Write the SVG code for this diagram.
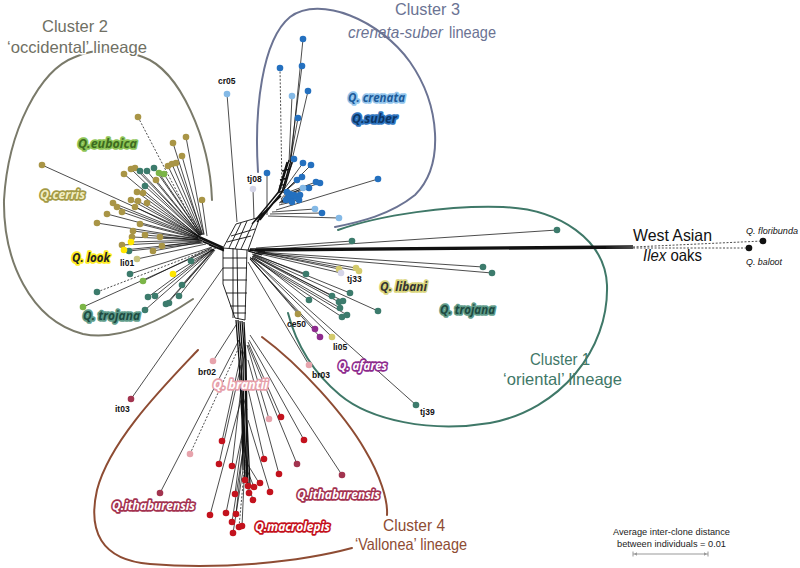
<svg xmlns="http://www.w3.org/2000/svg" width="800" height="568" viewBox="0 0 800 568">
<style>
.e{stroke:#111;stroke-width:0.75;fill:none}
.n{stroke:#111;stroke-width:0.9;fill:none}
.t{stroke:#111;stroke-width:1.3;fill:none}
.d{stroke:#111;stroke-width:0.75;fill:none;stroke-dasharray:2 1.6}
.bd{fill:none;stroke-width:2;stroke-linecap:round}
circle{r:3.3px}
.ol{fill:#a99546}.te{fill:#3c7b6c}.gr{fill:#7bb547}.ye{fill:#ffe600}.pa{fill:#c8c47e}
.bl{fill:#2470bf}.lb{fill:#84b9e6}.la{fill:#d5d5e8}.kh{fill:#d3ca6c}.pu{fill:#8e2b8e}
.pk{fill:#e7a3ac}.rd{fill:#c3121d}.mr{fill:#a2344f}.bk{fill:#111}
.cl{font-family:"Liberation Sans","Open Sans",sans-serif;font-size:16.5px}
.sp{font-family:"Open Sans","Liberation Sans",sans-serif;font-size:13px;font-weight:bold;font-style:italic;paint-order:stroke;stroke-width:3.5px;stroke-linejoin:round}
.sm{font-family:"Liberation Sans",sans-serif;font-size:8.5px;font-weight:bold;fill:#111}
.sc{font-family:"Liberation Sans",sans-serif;font-size:9.5px;fill:#222}
</style>

<g id="boundaries">
<path class="bd" stroke="#7a7a6a" d="M212,200 C210,140 180,70 143,57 C120,48 95,48 75,57 C40,70 8,130 4,200 C3,260 30,320 83,334 C120,342 165,318 193,299"/>
<path class="bd" stroke="#6b7393" d="M258,172 C254,110 262,40 290,17 C320,-5 380,20 410,62 C440,105 445,165 415,195 C390,215 360,222 335,227"/>
<path class="bd" stroke="#3f7868" d="M338,230 C380,215 450,205 503,207 C560,209 605,240 607,285 C609,350 560,410 490,423 C430,433 370,420 340,395 C310,370 295,340 288,313"/>
<path class="bd" stroke="#8e4c33" d="M198,350 C165,385 110,440 97,490 C88,530 100,560 150,564 C220,570 300,562 352,548"/>
<path class="bd" stroke="#8e4c33" d="M262,337 C300,365 345,415 365,450 C380,475 388,500 387,515"/>
</g>

<g id="connectors">
<path class="d" d="M138,117 L198,232 M97,292 L212,248 M280,68 L282,190 M190,454 L240,345 M239,527 L245,462"/>
<path class="e" d="M186,137 L204,234 M173,143 L202,234 M182,156 L204,235 M42,165 L199,236 M168,166 L201,235 M172,164 L202,235 M176,163 L203,235 M131,169 L199,235 M135,168 L200,235 M124,174 L198,236 M156,180 L201,236 M137,192 L199,237 M143,193 L200,237 M202,200 L207,236 M131,200 L199,237 M138,201 L199,237 M147,203 L200,237 M113,203 L198,237 M117,207 L198,238 M122,212 L198,238 M135,207 L199,238 M107,214 L198,238 M97,223 L198,239 M140,224 L199,239 M133,231 L199,239 M145,235 L200,240 M132,237 L199,240 M160,237 L201,240 M122,245 L200,241 M162,246 L202,241 M153,251 L202,242 M140,171 L200,235 M147,171 L200,235 M154,168 L201,235 M145,186 L200,236 M129,251 L203,243 M159,173 L201,235 M164,174 L202,235 M131,242 L200,240 M124,250 L201,242 M137,259 L206,244"/>
<path class="e" d="M130,274 L212,247 M191,261 L216,248 M182,285 L214,249 M148,297 L213,249 M155,296 L213,249 M179,296 L215,250 M145,310 L213,250 M166,304 L214,250 M168,303 L214,250 M143,281 L211,248 M83,307 L212,249 M173,274 L214,249"/>
<path class="t" d="M194,234 L223,247 M197,236 L223,248 M199,238 L224,249 M200,240 L223,250 M203,242 L224,250 M209,245 L224,251"/>
<path class="n" d="M223,248 L236,224 L260,217 L248,250 Z M229,248 L241,223 M235,249 L247,221 M231,236 L255,229 M227,242 L251,236 M241,249 L253,223 M223,248 L223,284 L235,318 L245,320 L247,250 M233,248 L233,318 M237,249 L238,319 M223,258 L247,258 M223,268 L247,268 M223,280 L247,280 M226,293 L247,293 M230,306 L246,306 M233,313 L246,313"/>
<path class="t" d="M254,222 L280,190 L289,160 M257,222 L282,192 L291,160 M260,220 L284,190 L292,162 M252,224 L278,193 L287,162 M256,220 L281,196 M278,193 L284,190 M280,180 L288,178 M282,171 L290,169 M279,186 L286,184"/>
<path class="e" d="M303,39 L291,160 M302,66 L290,160 M308,91 L292,160 M292,96 L289,162 M298,118 L290,162 M267,173 L267,215 M294,159 L284,185 M303,163 L285,188 M311,165 L286,190 M302,177 L284,192 M297,180 L283,193 M316,182 L286,193 M320,183 L287,194 M309,188 L285,196 M303,188 L284,197 M287,192 L281,199 M290,194 L281,200 M293,197 L282,201 M288,198 L280,202 M294,195 L281,201 M297,197 L282,202 M300,195 L282,201 M299,200 L281,203 M292,202 L279,205 M286,200 L279,203 M378,179 L276,210 M315,209 L272,212 M322,213 L270,214 M339,218 L268,216 M227,94 L237,222 M253,189 L254,219"/>
<path class="t" d="M248,250 L265,252 M248,251 L262,255 M250,249 L633,246 M252,250 L633,247 M254,251 L633,248"/>
<path class="d" d="M633,247 L763,241 M633,248 L749,248"/>
<path class="e" d="M258,250 L557,230 M258,252 L483,267 M258,253 L492,273 M256,248 L352,241 M256,252 L339,269 M256,253 L341,273 M257,251 L356,268 M257,252 L359,271 M252,254 L306,274 M252,256 L309,300 M253,255 L332,296 M254,254 L350,293 M253,256 L339,302 M253,256 L343,301 M252,257 L340,308 M252,258 L342,317 M252,258 L347,315 M254,255 L378,311 M250,258 L298,314 M250,259 L315,329 M250,259 L320,337 M251,258 L332,337 M248,262 L309,365 M250,257 L416,405"/>
<path class="t" d="M238,320 L241,360 L243,420 L245,480 M240,321 L243,360 L244,420 L247,482 M242,321 L245,360 L246,420 L248,484 M244,322 L246,360 L247,420 L250,485 M236,320 L239,360 L242,420 L243,470"/>
<path class="e" d="M239,340 L246,360 M245,350 L240,380 M241,390 L247,410 M246,400 L242,440 M243,445 L248,465 M213,361 L236,325 M131,399 L223,268 M160,493 L239,340 M222,441 L242,350 M219,464 L241,365 M232,466 L242,380 M264,459 L246,380 M269,419 L247,345 M281,417 L248,342 M304,440 L249,340 M297,464 L248,345 M342,475 L250,335 M279,474 L248,360 M245,480 L245,470 M248,485 L246,472 M254,487 L247,470 M259,483 L248,465 M249,493 L246,480 M270,492 L248,420 M235,494 L243,430 M253,500 L247,480 M210,515 L241,400 M226,513 L243,430 M236,514 L244,440 M232,522 L243,450 M242,526 L245,460 M233,533 L243,470"/>
</g>

<g id="cluster2-nodes">
<g id="c2a"><circle class="ol" cx="138" cy="117"/></g><g id="c2b"><circle class="ol" cx="186" cy="137"/></g><g id="c2c"><circle class="ol" cx="173" cy="143"/></g><g id="c2d"><circle class="ol" cx="182" cy="156"/></g><g id="c2e"><circle class="ol" cx="42" cy="165"/></g><g id="c2f"><circle class="ol" cx="168" cy="166"/></g><g id="c2g"><circle class="ol" cx="172" cy="164"/></g><g id="c2h"><circle class="ol" cx="176" cy="163"/></g><g id="c2i"><circle class="ol" cx="131" cy="169"/></g><g id="c2j"><circle class="ol" cx="135" cy="168"/></g><g id="c2k"><circle class="ol" cx="124" cy="174"/></g><g id="c2l"><circle class="ol" cx="156" cy="180"/></g><g id="c2m"><circle class="ol" cx="137" cy="192"/></g><g id="c2n"><circle class="ol" cx="143" cy="193"/></g><g id="c2o"><circle class="ol" cx="202" cy="200"/></g><g id="c2p"><circle class="ol" cx="131" cy="200"/></g><g id="c2q"><circle class="ol" cx="138" cy="201"/></g><g id="c2r"><circle class="ol" cx="147" cy="203"/></g><g id="c2s"><circle class="ol" cx="113" cy="203"/></g><g id="c2t"><circle class="ol" cx="117" cy="207"/></g><g id="c2u"><circle class="ol" cx="122" cy="212"/></g><g id="c2v"><circle class="ol" cx="135" cy="207"/></g><g id="c2w"><circle class="ol" cx="107" cy="214"/></g><g id="c2x"><circle class="ol" cx="97" cy="223"/></g><g id="c2y"><circle class="ol" cx="140" cy="224"/></g><g id="c2z"><circle class="ol" cx="133" cy="231"/></g><g id="c2aa"><circle class="ol" cx="145" cy="235"/></g><g id="c2ab"><circle class="ol" cx="132" cy="237"/></g><g id="c2ac"><circle class="ol" cx="160" cy="237"/></g><g id="c2ad"><circle class="ol" cx="122" cy="245"/></g><g id="c2ae"><circle class="ol" cx="162" cy="246"/></g><g id="c2af"><circle class="ol" cx="153" cy="251"/></g>
<g id="c2ag"><circle class="te" cx="140" cy="171"/></g><g id="c2ah"><circle class="te" cx="147" cy="171"/></g><g id="c2ai"><circle class="te" cx="154" cy="168"/></g><g id="c2aj"><circle class="te" cx="145" cy="186"/></g><g id="c2ak"><circle class="te" cx="129" cy="251"/></g><g id="c2al"><circle class="te" cx="130" cy="274"/></g><g id="c2am"><circle class="te" cx="191" cy="261"/></g><g id="c2an"><circle class="te" cx="97" cy="292"/></g><g id="c2ao"><circle class="te" cx="182" cy="285"/></g><g id="c2ap"><circle class="te" cx="148" cy="297"/></g><g id="c2aq"><circle class="te" cx="155" cy="296"/></g><g id="c2ar"><circle class="te" cx="179" cy="296"/></g><g id="c2as"><circle class="te" cx="145" cy="310"/></g><g id="c2at"><circle class="te" cx="166" cy="304"/></g><g id="c2au"><circle class="te" cx="169" cy="303"/></g>
<g id="c2av"><circle class="gr" cx="159" cy="173"/></g><g id="c2aw"><circle class="gr" cx="164" cy="174"/></g><g id="c2ax"><circle class="gr" cx="143" cy="281"/></g><g id="c2ay"><circle class="gr" cx="83" cy="307"/></g>
<g id="c2az"><circle class="ye" cx="131" cy="242"/></g><g id="c2ba"><circle class="ye" cx="124" cy="250"/></g><g id="c2bb"><circle class="ye" cx="173" cy="274"/></g>
<g id="li01"><circle class="pa" cx="137" cy="259"/><text class="sm" x="120" y="266">li01</text></g>
</g>

<g id="cluster3-nodes">
<g id="c3a"><circle class="bl" cx="303" cy="39"/></g><g id="c3b"><circle class="bl" cx="302" cy="66"/></g><g id="c3c"><circle class="bl" cx="280" cy="68"/></g><g id="c3d"><circle class="bl" cx="308" cy="91"/></g><g id="c3e"><circle class="lb" cx="292" cy="96"/></g><g id="c3f"><circle class="bl" cx="298" cy="118"/></g><g id="c3g"><circle class="bl" cx="267" cy="173"/></g><g id="c3h"><circle class="bl" cx="294" cy="159"/></g><g id="c3i"><circle class="bl" cx="303" cy="163"/></g><g id="c3j"><circle class="bl" cx="311" cy="165"/></g><g id="c3k"><circle class="bl" cx="302" cy="177"/></g><g id="c3l"><circle class="bl" cx="297" cy="180"/></g><g id="c3m"><circle class="bl" cx="316" cy="182"/></g><g id="c3n"><circle class="bl" cx="320" cy="183"/></g><g id="c3o"><circle class="bl" cx="309" cy="188"/></g><g id="c3p"><circle class="lb" cx="303" cy="188"/></g><g id="c3q"><circle class="bl" cx="287" cy="192"/></g><g id="c3r"><circle class="bl" cx="290" cy="194"/></g><g id="c3s"><circle class="bl" cx="293" cy="197"/></g><g id="c3t"><circle class="bl" cx="288" cy="198"/></g><g id="c3u"><circle class="bl" cx="294" cy="195"/></g><g id="c3v"><circle class="bl" cx="297" cy="197"/></g><g id="c3w"><circle class="bl" cx="300" cy="195"/></g><g id="c3x"><circle class="bl" cx="299" cy="200"/></g><g id="c3y"><circle class="bl" cx="292" cy="202"/></g><g id="c3z"><circle class="bl" cx="286" cy="200"/></g><g id="c3aa"><circle class="bl" cx="378" cy="179"/></g><g id="c3ab"><circle class="lb" cx="315" cy="209"/></g><g id="c3ac"><circle class="bl" cx="322" cy="213"/></g><g id="c3ad"><circle class="lb" cx="339" cy="218"/></g>
<g id="cr05"><circle class="lb" cx="227" cy="94"/><text class="sm" x="218" y="84">cr05</text></g>
<g id="tj08"><circle class="la" cx="253" cy="189"/><text class="sm" x="247" y="182">tj08</text></g>
</g>

<g id="cluster1-nodes">
<g id="c1a"><circle class="te" cx="557" cy="230"/></g><g id="c1b"><circle class="te" cx="483" cy="267"/></g><g id="c1c"><circle class="te" cx="492" cy="273"/></g><g id="c1d"><circle class="te" cx="352" cy="241"/></g><g id="c1e"><circle class="te" cx="306" cy="274"/></g><g id="c1f"><circle class="te" cx="309" cy="300"/></g><g id="c1g"><circle class="te" cx="332" cy="296"/></g><g id="c1h"><circle class="te" cx="350" cy="293"/></g><g id="c1i"><circle class="te" cx="339" cy="302"/></g><g id="c1j"><circle class="te" cx="343" cy="301"/></g><g id="c1k"><circle class="te" cx="340" cy="308"/></g><g id="c1l"><circle class="te" cx="342" cy="317"/></g><g id="c1m"><circle class="te" cx="347" cy="315"/></g><g id="c1n"><circle class="te" cx="378" cy="311"/></g>
<g id="tj33"><circle class="kh" cx="339" cy="269"/><circle class="la" cx="341" cy="273"/><circle class="kh" cx="356" cy="268"/><circle class="kh" cx="359" cy="271"/><text class="sm" x="347" y="282">tj33</text></g>
<g id="ce50"><circle class="ol" cx="298" cy="314"/><text class="sm" x="287" y="327">ce50</text></g>
<g id="c1o"><circle class="pu" cx="315" cy="329"/></g><g id="c1p"><circle class="pu" cx="320" cy="337"/></g>
<g id="li05"><circle class="kh" cx="332" cy="337"/><text class="sm" x="333" y="350">li05</text></g>
<g id="br03"><circle class="pk" cx="309" cy="365"/><text class="sm" x="312" y="378">br03</text></g>
<g id="tj39"><circle class="te" cx="416" cy="405"/><text class="sm" x="420" y="415">tj39</text></g>
</g>

<g id="cluster4-nodes">
<g id="br02"><circle class="pk" cx="213" cy="361"/><text class="sm" x="198" y="375">br02</text></g>
<g id="it03"><circle class="mr" cx="131" cy="399"/><text class="sm" x="115" y="412">it03</text></g>
<g id="c4a"><circle class="pk" cx="269" cy="419"/></g><g id="c4b"><circle class="rd" cx="281" cy="417"/></g><g id="c4c"><circle class="rd" cx="304" cy="440"/></g><g id="c4d"><circle class="rd" cx="222" cy="441"/></g><g id="c4e"><circle class="pk" cx="190" cy="454"/></g><g id="c4f"><circle class="rd" cx="219" cy="464"/></g><g id="c4g"><circle class="rd" cx="232" cy="466"/></g><g id="c4h"><circle class="rd" cx="264" cy="459"/></g><g id="c4i"><circle class="rd" cx="279" cy="474"/></g><g id="c4j"><circle class="mr" cx="297" cy="464"/></g><g id="c4k"><circle class="mr" cx="342" cy="475"/></g><g id="c4l"><circle class="mr" cx="160" cy="493"/></g><g id="c4m"><circle class="rd" cx="245" cy="480"/></g><g id="c4n"><circle class="rd" cx="248" cy="486"/></g><g id="c4o"><circle class="rd" cx="254" cy="487"/></g><g id="c4p"><circle class="rd" cx="260" cy="483"/></g><g id="c4q"><circle class="rd" cx="249" cy="493"/></g><g id="c4r"><circle class="rd" cx="270" cy="492"/></g><g id="c4s"><circle class="rd" cx="235" cy="494"/></g><g id="c4t"><circle class="rd" cx="253" cy="500"/></g><g id="c4u"><circle class="rd" cx="210" cy="515"/></g><g id="c4v"><circle class="rd" cx="226" cy="513"/></g><g id="c4w"><circle class="rd" cx="236" cy="514"/></g><g id="c4x"><circle class="rd" cx="232" cy="522"/></g><g id="c4y"><circle class="rd" cx="239" cy="527"/></g><g id="c4z"><circle class="rd" cx="242" cy="526"/></g><g id="c4aa"><circle class="rd" cx="233" cy="533"/></g>
</g>

<g id="outgroup">
<circle class="bk" cx="763" cy="241" r="3"/><circle class="bk" cx="749" cy="248" r="3"/>
<text x="746" y="234" font-family="Liberation Sans,sans-serif" font-size="9" font-style="italic" fill="#111" textLength="52" lengthAdjust="spacingAndGlyphs">Q. floribunda</text>
<text x="746" y="265" font-family="Liberation Sans,sans-serif" font-size="9" font-style="italic" fill="#111" textLength="36" lengthAdjust="spacingAndGlyphs">Q. baloot</text>
<text class="cl" x="633" y="241" fill="#111" textLength="79" lengthAdjust="spacingAndGlyphs">West Asian</text>
<text class="cl" x="643" y="261" fill="#111" textLength="59" lengthAdjust="spacingAndGlyphs"><tspan font-style="italic">Ilex</tspan> oaks</text>
</g>

<g id="labels">
<text class="cl" x="42" y="32" fill="#707064" textLength="66" lengthAdjust="spacingAndGlyphs">Cluster  2</text>
<text class="cl" x="7" y="53" fill="#707064" stroke="#fff" stroke-width="3" paint-order="stroke" textLength="140" lengthAdjust="spacingAndGlyphs">‘occidental’ lineage</text>
<text class="cl" x="395" y="15" fill="#6b7393" font-size="16" textLength="65" lengthAdjust="spacingAndGlyphs">Cluster 3</text>
<text class="cl" x="348" y="38" fill="#6b7393" font-size="16" font-style="italic" textLength="95" lengthAdjust="spacingAndGlyphs">crenata-suber</text>
<text class="cl" x="449" y="38" fill="#6b7393" font-size="16" textLength="47" lengthAdjust="spacingAndGlyphs">lineage</text>
<text class="cl" x="530" y="365" fill="#3f7868" textLength="60" lengthAdjust="spacingAndGlyphs">Cluster 1</text>
<text class="cl" x="503" y="385" fill="#3f7868" textLength="119" lengthAdjust="spacingAndGlyphs">‘oriental’ lineage</text>
<text class="cl" x="383" y="531" fill="#8e4c33" textLength="62" lengthAdjust="spacingAndGlyphs">Cluster 4</text>
<text class="cl" x="355" y="550" fill="#8e4c33" textLength="112" lengthAdjust="spacingAndGlyphs">‘Vallonea’ lineage</text>

<text class="sp" x="78" y="148" fill="#3d6b1f" stroke="#8cc455" textLength="59" lengthAdjust="spacingAndGlyphs">Q.euboica</text>
<text class="sp" x="40" y="199" fill="#f2eec4" stroke="#a39a45" textLength="45" lengthAdjust="spacingAndGlyphs">Q.cerris</text>
<text class="sp" x="72" y="262" fill="#222" stroke="#ffee22" textLength="38" lengthAdjust="spacingAndGlyphs">Q. look</text>
<text class="sp" x="83" y="320" fill="#1e4a40" stroke="#5f9c8a" textLength="57" lengthAdjust="spacingAndGlyphs">Q. trojana</text>
<text class="sp" x="348" y="102" fill="#1d5a99" stroke="#93c5ec" textLength="57" lengthAdjust="spacingAndGlyphs">Q. crenata</text>
<text class="sp" x="352" y="123" fill="#0c3566" stroke="#2f75c0" textLength="45" lengthAdjust="spacingAndGlyphs">Q.suber</text>
<text class="sp" x="380" y="291" fill="#333" stroke="#d9d57a" textLength="47" lengthAdjust="spacingAndGlyphs">Q. libani</text>
<text class="sp" x="440" y="314" fill="#1e4a40" stroke="#5f9c8a" textLength="55" lengthAdjust="spacingAndGlyphs">Q. trojana</text>
<text class="sp" x="338" y="370" fill="#fff" stroke="#8d2b8d" textLength="49" lengthAdjust="spacingAndGlyphs">Q. afares</text>
<text class="sp" x="213" y="389" fill="#fff" stroke="#e6a0aa" textLength="55" lengthAdjust="spacingAndGlyphs">Q. brantii</text>
<text class="sp" x="297" y="499" fill="#fff" stroke="#a3314f" textLength="83" lengthAdjust="spacingAndGlyphs">Q.ithaburensis</text>
<text class="sp" x="112" y="510" fill="#fff" stroke="#a3314f" textLength="83" lengthAdjust="spacingAndGlyphs">Q.ithaburensis</text>
<text class="sp" x="255" y="531" fill="#fff" stroke="#c4111c" textLength="75" lengthAdjust="spacingAndGlyphs">Q.macrolepis</text>
</g>

<g id="scalebar">
<text class="sc" x="613" y="534.5" textLength="117" lengthAdjust="spacingAndGlyphs">Average inter-clone distance</text>
<text class="sc" x="617" y="546.5" textLength="109" lengthAdjust="spacingAndGlyphs">between individuals = 0.01</text>
<path d="M633,554 L708,554 M633,551.5 L633,556.5 M708,551.5 L708,556.5" stroke="#999" stroke-width="1" fill="none"/>
<path d="M634,554 L637,552.3 L637,555.7 Z M707,554 L704,552.3 L704,555.7 Z" fill="#999"/>
</g>
</svg>
